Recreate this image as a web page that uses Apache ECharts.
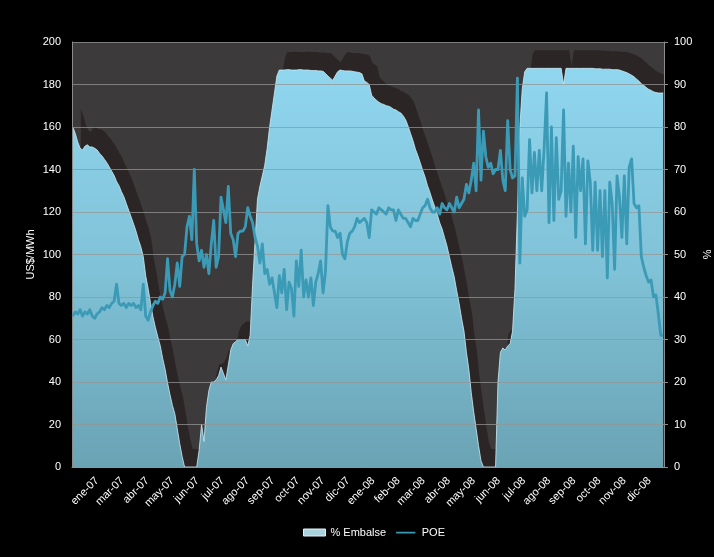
<!DOCTYPE html>
<html>
<head>
<meta charset="utf-8">
<script src="https://cdn.jsdelivr.net/npm/echarts@6/dist/echarts.min.js"></script>
<style>
html, body { margin: 0; padding: 0; background: #000; }
#chart { width: 714px; height: 557px; }
</style>
</head>
<body>
<div id="chart"></div>
<script>
// Month labels, one every 31 days along the day axis (day 1 = 1 Jan 2007)
const tickLabels = ['ene-07','mar-07','abr-07','may-07','jun-07','jul-07','ago-07','sep-07','oct-07','nov-07','dic-07',
  'ene-08','feb-08','mar-08','abr-08','may-08','jun-08','jul-08','ago-08','sep-08','oct-08','nov-08','dic-08'];
const labelStepDays = 31;
const axisLastDay = 731;

// Both series are sampled every 3 days, starting on day 1
const sampleStartDay = 1;
const sampleStepDays = 3;

// POE, US$/MWh
const poe = [
  71,73,72,74,71,73,72,74,71,70,
  72,73,75,74,76,75,77,78,86,77,
  76,77,75,77,76,77,75,76,74,86,
  71,69,73,76,78,77,80,79,82,98,
  83,80,86,96,85,99,100,113,118,107,
  140,105,97,102,94,100,91,105,116,94,
  99,127,121,115,132,110,107,99,110,111,
  111,113,122,118,115,108,104,96,105,91,
  93,86,89,82,75,90,82,93,74,87,
  84,71,97,85,102,80,88,80,89,76,
  87,91,97,82,92,123,113,111,111,108,
  110,100,98,106,110,111,113,117,115,116,
  117,115,108,121,120,119,122,121,120,119,
  122,121,121,116,121,119,117,117,115,113,
  117,116,116,119,122,123,126,122,120,120,
  122,119,124,122,121,124,122,120,127,122,
  124,126,133,129,135,143,130,168,135,158,
  146,141,143,138,140,140,149,135,130,163,
  140,136,137,183,96,136,118,121,154,129,
  148,130,149,130,150,176,115,160,116,155,
  126,130,168,118,143,120,151,108,146,130,
  145,105,144,134,102,134,102,130,99,130,
  89,134,124,93,137,127,108,137,105,141,
  145,124,122,123,99,94,90,87,88,80,
  81,72,62,62
];

// Reservoir level, %
const embalse = [
  80,78.5,76.5,75,74.6,75.5,75.8,75.3,75.3,75,
  74.6,73.8,73.2,72.4,71.6,70.6,69.6,68.6,67.2,66.2,
  64.8,63.6,62,60.4,58.8,57.2,55.5,53.5,51.8,49.5,
  45,42,38.5,35.3,32.8,30.6,28.5,25.5,23,19.8,
  17,14.5,12.5,9,5.5,2.5,0,0,0,0,
  0,0,4,10,6,14,18,20,20,20.5,
  21.5,23.5,22,20.5,24,27.5,29,29.5,30,30,
  30,30,28.5,31,43,53,63,66,68.5,71,
  75,80,84,88,92,93.4,93.4,93.4,93.5,93.5,
  93.4,93.4,93.4,93.5,93.5,93.4,93.4,93.4,93.3,93.3,
  93.3,93.2,93.2,93.1,92.6,92,91.5,91,92,93,
  93.4,93.3,93.2,93.2,93.2,93.1,93,92.9,92.8,92.5,
  90.8,90.5,90,87.5,86.8,86.3,85.8,85.5,85.3,85,
  84.9,84.6,84.2,84,83.6,83.3,82.6,81.7,80.2,78.5,
  76.8,74.8,73.3,71.6,69.8,68.2,66.2,64.6,62.8,61.2,
  59.5,57.5,56,54,52,49.5,47,44.7,41.5,38.5,
  35,32,27,23,17.5,13,9,5,1.5,0,
  0,0,0,0,0,20,27,28,27.5,28.5,
  29,32,42,60,80,89,93,93.8,93.8,93.8,
  93.8,93.8,93.8,93.8,93.8,93.8,93.8,93.8,93.8,93.8,
  93.8,93.8,90,93.8,93.8,93.8,93.8,93.8,93.8,93.8,
  93.8,93.8,93.8,93.8,93.8,93.7,93.7,93.7,93.6,93.6,
  93.6,93.6,93.5,93.5,93.5,93.4,93.2,93,92.8,92.5,
  92.2,91.8,91.3,90.8,90.2,89.8,89.3,88.9,88.6,88.3,
  88.1,88,88,88
];

const days = poe.map((_, i) => sampleStartDay + i * sampleStepDays);
const poeData = poe.map((v, i) => [days[i], v]);
const embalseData = embalse.map((v, i) => [days[i], v]);

// Offset of the dark "depth" face drawn behind the reservoir area
const DEPTH_X = 8;
const DEPTH_Y = 18;

function renderDepth(params, api) {
  if (params.dataIndex !== 0) return null;
  const cs = params.coordSys;
  const right = cs.x + cs.width;
  const top = cs.y;
  const bottom = cs.y + cs.height;
  const pts = [];
  for (let i = 0; i < embalse.length; i++) {
    const p = api.coord([days[i], embalse[i]]);
    pts.push([Math.min(p[0] + DEPTH_X, right), Math.max(p[1] - DEPTH_Y, top)]);
  }
  const last = api.coord([days[days.length - 1], 0]);
  const first = api.coord([days[0], 0]);
  pts.push([Math.min(last[0] + DEPTH_X, right), bottom]);
  pts.push([first[0] + DEPTH_X, bottom]);
  return { type: 'polygon', shape: { points: pts }, style: { fill: '#2b2526' } };
}

const axisGrey = '#8c8c8c';
const lineColor = '#3b9ab6';
// thin horizontal bar used as the POE legend key
const lineKey = 'path://M0,0 L0.1,0 M0,3 L22,3 L22,5 L0,5 Z M21.9,8 L22,8';

const chart = echarts.init(document.getElementById('chart'), null, { renderer: 'canvas' });

chart.setOption({
  backgroundColor: '#000000',
  animation: false,
  textStyle: { fontFamily: 'Liberation Sans, Arial, sans-serif' },
  grid: {
    left: 72, right: 50, top: 42, bottom: 90,
    show: true, backgroundColor: '#3c3a3b', borderWidth: 0,
    containLabel: false, outerBoundsMode: 'none'
  },
  legend: {
    left: 303, top: 527, padding: 0,
    itemWidth: 22, itemHeight: 7, itemGap: 10,
    textStyle: { color: '#ffffff', fontSize: 11, fontFamily: 'Liberation Sans, Arial, sans-serif' },
    data: [
      { name: '% Embalse', icon: 'rect', itemStyle: { color: '#a9d2de', borderColor: '#e0f1f6', borderWidth: 1 } },
      { name: 'POE', icon: lineKey, itemStyle: { color: lineColor, borderWidth: 0 } }
    ]
  },
  xAxis: {
    type: 'value', min: 0, max: axisLastDay, interval: labelStepDays,
    axisLine: { show: true, lineStyle: { color: axisGrey, width: 1 } },
    axisTick: { show: false },
    splitLine: { show: false },
    axisLabel: {
      color: '#ffffff', fontSize: 11, rotate: 45, margin: 12,
      showMinLabel: false, showMaxLabel: false,
      formatter: (v) => {
        const k = Math.round(v / labelStepDays);
        return (k >= 1 && k <= tickLabels.length && k * labelStepDays === v) ? tickLabels[k - 1] : '';
      }
    }
  },
  yAxis: [
    {
      type: 'value', position: 'left', min: 0, max: 200, interval: 20, z: 3,
      name: 'US$/MWh', nameLocation: 'middle', nameRotate: 90, nameGap: 36, nameMoveOverlap: false,
      nameTextStyle: { color: '#ffffff', fontSize: 11 },
      axisLine: { show: true, lineStyle: { color: axisGrey, width: 1 } },
      axisTick: { show: false },
      axisLabel: { color: '#ffffff', fontSize: 11, margin: 11 },
      splitLine: { show: true, lineStyle: { color: 'rgba(150,150,150,0.75)', width: 1 } }
    },
    {
      type: 'value', position: 'right', min: 0, max: 100, interval: 10, z: 3,
      name: '%', nameLocation: 'middle', nameRotate: -90, nameGap: 37, nameMoveOverlap: false,
      nameTextStyle: { color: '#ffffff', fontSize: 11 },
      axisLine: { show: true, lineStyle: { color: axisGrey, width: 1 } },
      axisTick: { show: true, inside: false, length: 4, lineStyle: { color: axisGrey } },
      axisLabel: { color: '#ffffff', fontSize: 11, margin: 10 },
      splitLine: { show: false }
    }
  ],
  series: [
    {
      name: 'depth', type: 'custom', yAxisIndex: 1, z: 1, silent: true,
      data: [[0, 0]], renderItem: renderDepth
    },
    {
      name: '% Embalse', type: 'line', yAxisIndex: 1, z: 2, silent: true,
      data: embalseData, symbol: 'none',
      lineStyle: { color: 'rgba(205,236,246,0.8)', width: 1 },
      itemStyle: { color: '#a9d2de' },
      areaStyle: {
        opacity: 1,
        color: new echarts.graphic.LinearGradient(0, 0, 0, 1, [
          { offset: 0, color: '#90d6ef' },
          { offset: 0.5, color: '#80c2d7' },
          { offset: 1, color: '#6aa3b4' }
        ])
      }
    },
    {
      name: 'POE', type: 'line', yAxisIndex: 0, z: 5, silent: true,
      data: poeData, symbol: 'none',
      lineStyle: { color: lineColor, width: 2.8, join: 'round' },
      itemStyle: { color: lineColor }
    }
  ]
});
</script>
</body>
</html>
